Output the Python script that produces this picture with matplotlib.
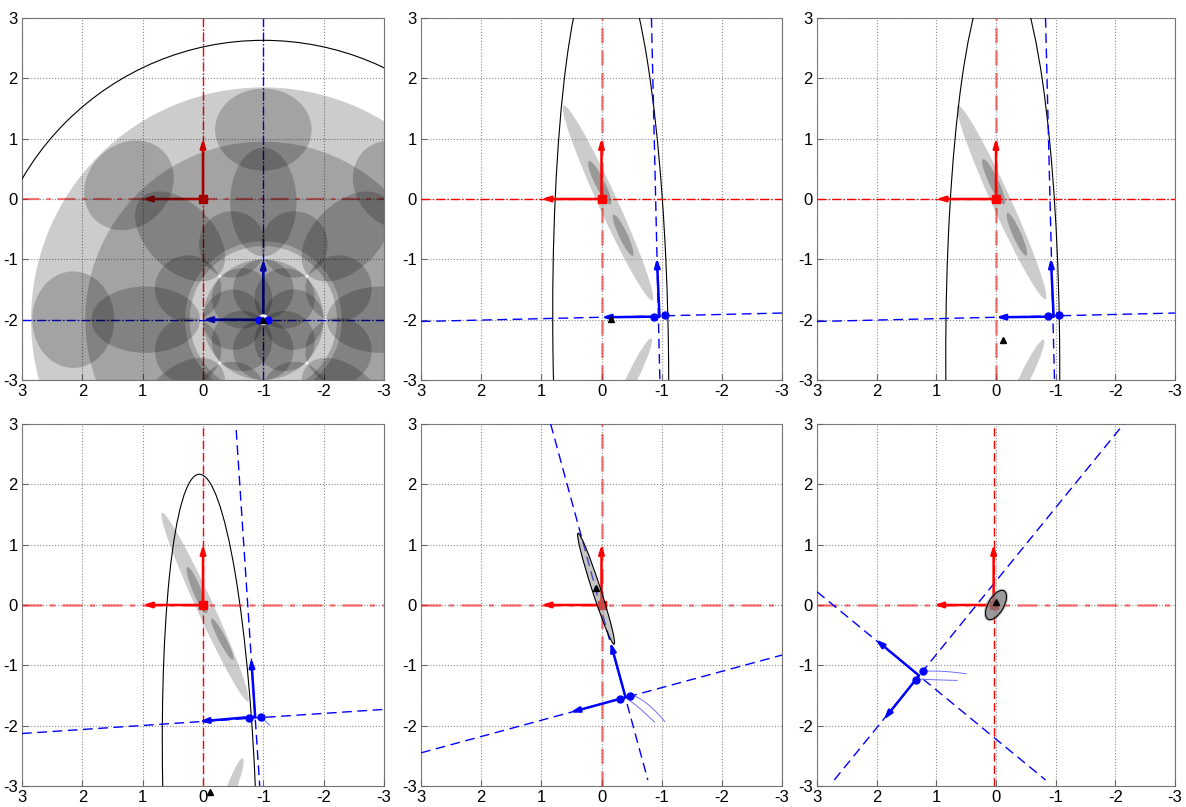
import numpy as np
import matplotlib
matplotlib.use("Agg")
import matplotlib.pyplot as plt
from matplotlib.patches import Ellipse, Circle, Wedge

plt.rcParams['font.family'] = ['Liberation Sans', 'DejaVu Sans']

# axis ticks (x axis is reversed)
ticks = [3, 2, 1, 0, -1, -2, -3]
xtick_labels = ['3', '2', '1', '0', '-1', '-2', '-3']
yticks = [-3, -2, -1, 0, 1, 2, 3]
ytick_labels = ['-3', '-2', '-1', '0', '1', '2', '3']

# ---- panel 1 : flower pattern around the second robot
p1_center = (-1.0, -2.0)
p1_outer_radius = 4.63
p1_disk_radius = 3.85
p1_inner_disk = 1.0
p1_gap_outer = 1.22
p1_band = (1.3, 2.95)
ring_dist = [0.5, 1.35, 1.95, 3.15]
ring_count = [8, 8, 8, 8]
ring_offset = [0.0, 22.5, 0.0, 0.0]
ring_radial = [0.5, 0.55, 0.9, 0.68]
ring_tangent = [0.5, 0.55, 0.55, 0.8]
p1_dots = [(-0.92, -2.0), (-1.08, -2.0)]
p1_blue_tips = [(-1.0, -1.0), (0.0, -2.0)]

# ---- black uncertainty curves (center x, center y, half width, half length, angle)
curve_p2 = (-0.153, -2.5, 0.96, 6.7, 89.24)
curve_p3 = (-0.113, -2.7, 0.955, 6.6, 89.86)
curve_p4 = (-0.115, -3.5, 0.77, 5.67, 88.2)

# ---- gray ellipses given by end points and half widths
p2_ells = [((0.63, 1.55), (-0.845, -1.68), 0.16, '0.8'),
           ((0.21, 0.63), (-0.15, -0.09), 0.08, '0.6'),
           ((-0.2, -0.26), (-0.52, -0.94), 0.07, '0.6'),
           ((-0.83, -2.31), (-0.25, -3.5), 0.09, '0.8')]
p3_ells = [((0.64, 1.55), (-0.83, -1.66), 0.16, '0.8'),
           ((0.22, 0.66), (-0.14, -0.09), 0.08, '0.6'),
           ((-0.19, -0.23), (-0.51, -0.94), 0.07, '0.6'),
           ((-0.8, -2.33), (-0.22, -3.5), 0.09, '0.8')]
p4_ells = [((0.68, 1.53), (-0.75, -1.6), 0.14, '0.8'),
           ((0.26, 0.63), (-0.06, -0.14), 0.07, '0.6'),
           ((-0.14, -0.22), (-0.5, -0.91), 0.06, '0.6'),
           ((-0.66, -2.54), (-0.3, -3.5), 0.08, '0.8')]

# ---- blue lines / arrows per panel
p2_lines = [((-0.83, 3.0), (-0.97, -3.0)), ((3.0, -2.03), (-3.0, -1.89))]
p2_corner = (-0.964, -1.95)
p2_tips = [(-0.92, -0.98), (0.0, -1.96)]
p2_dots = [(-0.87, -1.95), (-1.05, -1.93)]
p2_tri = (-0.15, -1.99)

p3_lines = [((-0.83, 3.0), (-0.98, -3.0)), ((3.0, -2.03), (-3.0, -1.89))]
p3_corner = (-0.966, -1.95)
p3_tips = [(-0.92, -0.98), (0.0, -1.96)]
p3_dots = [(-0.87, -1.94), (-1.05, -1.93)]
p3_tri = (-0.11, -2.33)

p4_lines = [((-0.55, 2.9), (-0.94, -3.0)), ((3.0, -2.13), (-3.0, -1.73))]
p4_corner = (-0.864, -1.85)
p4_tips = [(-0.8, -0.88), (0.06, -1.93)]
p4_dots = [(-0.77, -1.87), (-0.96, -1.85)]
p4_tri = (-0.11, -3.1)
p4_thin = [[(-0.96, -1.85), (-1.03, -1.92), (-1.1, -1.99)]]

p5_lines = [((0.845, 3.0), (-0.77, -2.9)), ((3.0, -2.45), (-3.0, -0.83))]
p5_corner = (-0.4, -1.53)
p5_tips = [(-0.15, -0.62), (0.52, -1.78)]
p5_dots = [(-0.31, -1.56), (-0.48, -1.5)]
p5_tri = (0.09, 0.28)
p5_ell = ((0.39, 1.19), (-0.21, -0.65), 0.07)
p5_thin = [[(-0.41, -1.54), (-0.63, -1.71), (-0.88, -1.94)],
           [(-0.47, -1.48), (-0.75, -1.63), (-1.05, -1.93)]]

p6_lines = [((2.71, -2.9), (-2.14, 3.0)), ((3.0, 0.22), (-0.83, -2.9))]
p6_corner = (1.29, -1.17)
p6_tips = [(2.02, -0.57), (1.88, -1.9)]
p6_dots = [(1.22, -1.10), (1.34, -1.24)]
p6_tri = (0.0, 0.05)
p6_ell = (0.0, 0.0, 0.27, 0.13, 120.0)
p6_thin = [[(1.22, -1.10), (0.89, -1.10), (0.5, -1.14)],
           [(1.27, -1.23), (1.0, -1.24), (0.65, -1.25)]]
p6_origin = (0.04, 0.0)

W, H = 1186, 807
boxes = [(22, 18, 384, 380), (421, 18, 782, 380), (817, 18, 1175, 380),
         (22, 424, 384, 786), (421, 424, 782, 786), (817, 424, 1175, 786)]

fig = plt.figure(figsize=(W / 100, H / 100), dpi=100)
axs = []
for l, t, r, b in boxes:
    ax = fig.add_axes([l / W, 1 - b / H, (r - l) / W, (b - t) / H])
    ax.set_xlim(3, -3)
    ax.set_ylim(-3, 3)
    ax.set_xticks(ticks)
    ax.set_xticklabels(xtick_labels)
    ax.set_yticks(yticks)
    ax.set_yticklabels(ytick_labels)
    ax.tick_params(direction='in', length=4, color='0.4', labelsize=12, pad=3)
    ax.grid(True, linestyle=':', color='0.55', linewidth=0.8)
    ax.set_axisbelow(False)
    for s in ax.spines.values():
        s.set_color('0.45')
        s.set_linewidth(0.8)
    axs.append(ax)


def ell_ends(p, q, hw, **kw):
    c = ((p[0] + q[0]) / 2, (p[1] + q[1]) / 2)
    L = np.hypot(q[0] - p[0], q[1] - p[1])
    ang = np.degrees(np.arctan2(q[1] - p[1], q[0] - p[0]))
    return Ellipse(c, L, 2 * hw, angle=ang, **kw)


def arrow(ax, start, tip, color, z=4, lw=1.8):
    a = ax.annotate('', xy=tip, xytext=start,
                    arrowprops=dict(arrowstyle='-|>,head_length=0.5,head_width=0.16',
                                    color=color, lw=lw,
                                    shrinkA=0, shrinkB=0, mutation_scale=10))
    a.set_zorder(z)


def thin_curve(ax, pts):
    p0, p1, p2 = [np.array(p) for p in pts]
    c = 2 * p1 - 0.5 * (p0 + p2)
    t = np.linspace(0, 1, 30)[:, None]
    cur = (1 - t) ** 2 * p0 + 2 * t * (1 - t) * c + t ** 2 * p2
    ax.plot(cur[:, 0], cur[:, 1], color='#6f6fff', lw=0.7, zorder=4)


def red_frame(ax, origin, v_style, h_style):
    ox, oy = origin
    ax.axvline(ox, **v_style)
    ax.axhline(oy, **h_style)
    arrow(ax, origin, (ox, oy + 1.0), 'red', z=5)
    arrow(ax, origin, (ox + 1.0, oy), 'red', z=5)
    ax.plot(ox, oy, 's', color='red', ms=6, zorder=5)


def blue_frame(ax, lines, corner, tips, dots, tri):
    for p, q in lines:
        ax.plot([p[0], q[0]], [p[1], q[1]], color='blue', lw=1.0,
                dashes=(7, 4), zorder=3)
    for tp in tips:
        arrow(ax, corner, tp, 'blue', z=6)
    for d in dots:
        ax.plot(d[0], d[1], 'o', color='blue', ms=5, zorder=6)
    ax.plot(tri[0], tri[1], '^', color='black', ms=5, zorder=7, clip_on=False)


red_dash_pink = dict(color='red', alpha=0.5, lw=1.8, dashes=(6, 3), zorder=3)
red_dash_full = dict(color='red', lw=1.0, dashes=(6, 3), zorder=3)
red_dd_full = dict(color='red', lw=1.0, linestyle='-.', zorder=3)
red_dd_pink = dict(color='red', alpha=0.5, lw=1.8, dashes=(8, 3, 2, 3), zorder=3)

# ---------------- panel 1
ax = axs[0]
ax.set_axisbelow(True)
cx, cy = p1_center
ax.add_patch(Circle(p1_center, p1_outer_radius, fill=False, ec='black', lw=0.8, zorder=3))
ax.axvline(0, color='red', lw=1.0, linestyle='-.', zorder=1)
ax.axhline(0, color='red', alpha=0.5, lw=1.6, dashes=(8, 3, 2, 3), zorder=1)
ax.axvline(cx, color='blue', lw=1.0, linestyle='-.', zorder=1)
ax.axhline(cy, color='blue', lw=1.0, linestyle='-.', zorder=1)
arrow(ax, (0, 0), (0, 1), 'red', z=1)
arrow(ax, (0, 0), (1, 0), 'red', z=1)
ax.plot(0, 0, 's', color='red', ms=6, zorder=1)
for tp in p1_blue_tips:
    arrow(ax, p1_center, tp, 'blue', z=1)

shade = dict(fc='black', alpha=0.2, ec='none', zorder=2)
ax.add_patch(Circle(p1_center, p1_inner_disk, **shade))
ax.add_patch(Wedge(p1_center, p1_disk_radius, 0, 360,
                   width=p1_disk_radius - p1_gap_outer, **shade))
ax.add_patch(Wedge(p1_center, p1_band[1], 0, 360,
                   width=p1_band[1] - p1_band[0], **shade))
for d, n, off, ra, ta in zip(ring_dist, ring_count, ring_offset, ring_radial, ring_tangent):
    for k in range(n):
        th = np.radians(off + k * 360.0 / n)
        ex, ey = cx + d * np.cos(th), cy + d * np.sin(th)
        ax.add_patch(Ellipse((ex, ey), 2 * ra, 2 * ta, angle=np.degrees(th), **shade))
ax.add_patch(Circle(p1_center, 0.09, fc='white', ec='none', zorder=5))
for d in p1_dots:
    ax.plot(d[0], d[1], 'o', color='blue', ms=5, zorder=6)
ax.plot(cx, cy, '^', color='black', ms=5, zorder=7)

# ---------------- panels 2-4
for ax, ells, curve, lines, corner, tips, dots, tri, vst, hst in [
        (axs[1], p2_ells, curve_p2, p2_lines, p2_corner, p2_tips, p2_dots, p2_tri, red_dash_pink, red_dd_full),
        (axs[2], p3_ells, curve_p3, p3_lines, p3_corner, p3_tips, p3_dots, p3_tri, red_dash_pink, red_dd_full),
        (axs[3], p4_ells, curve_p4, p4_lines, p4_corner, p4_tips, p4_dots, p4_tri, red_dash_full, red_dd_pink)]:
    for p, q, hw, col in ells:
        ax.add_patch(ell_ends(p, q, hw, fc=col, ec='none', zorder=1))
    ex, ey, a, b, ang = curve
    ax.add_patch(Ellipse((ex, ey), 2 * b, 2 * a, angle=ang, fill=False, ec='black', lw=0.8, zorder=3))
    red_frame(ax, (0, 0), vst, hst)
    blue_frame(ax, lines, corner, tips, dots, tri)
for pts in p4_thin:
    thin_curve(axs[3], pts)

# ---------------- panel 5
ax = axs[4]
red_frame(ax, (0, 0), red_dash_pink, red_dd_pink)
p, q, hw = p5_ell
ax.add_patch(ell_ends(p, q, hw, fc=(0.55, 0.55, 0.55, 0.5), ec='black', lw=0.8, zorder=5))
blue_frame(ax, p5_lines, p5_corner, p5_tips, p5_dots, p5_tri)
for pts in p5_thin:
    thin_curve(ax, pts)

# ---------------- panel 6
ax = axs[5]
red_frame(ax, p6_origin, red_dash_full, red_dd_pink)
ex, ey, a, b, ang = p6_ell
ax.add_patch(Ellipse((ex, ey), 2 * a + 0.06, 2 * b + 0.06, angle=ang,
                     fc=(0.6, 0.6, 0.6, 0.5), ec='none', zorder=5))
ax.add_patch(Ellipse((ex, ey), 2 * a, 2 * b, angle=ang,
                     fc=(0.45, 0.45, 0.45, 0.55), ec='black', lw=0.8, zorder=5))
blue_frame(ax, p6_lines, p6_corner, p6_tips, p6_dots, p6_tri)
for pts in p6_thin:
    thin_curve(ax, pts)

fig.savefig('out.png', dpi=100)
